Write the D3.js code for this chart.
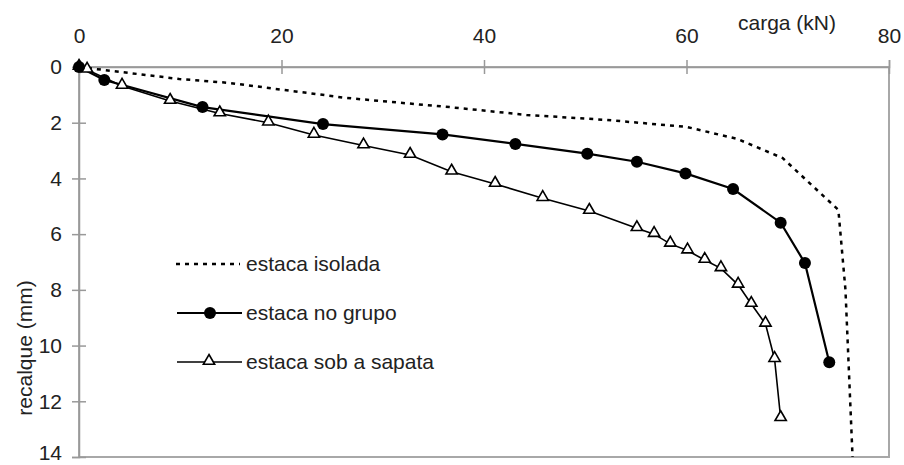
<!DOCTYPE html>
<html>
<head>
<meta charset="utf-8">
<script src="https://cdn.jsdelivr.net/npm/d3@7"></script>
<style>
  body { margin: 0; background: #fff; }
  text { font-family: "Liberation Sans", Arial, sans-serif; fill: #222; }
</style>
</head>
<body>
<div id="chart"></div>
<script>
// carga (kN) x recalque (mm)
var isoladaCarga   = [0, 9.9, 14.8, 26.4, 36.6, 44.2, 52.1, 60, 65, 69.5, 75, 75.7, 76.4];
var isoladaRecalque = [0, 0.43, 0.57, 1.11, 1.44, 1.72, 1.9, 2.15, 2.58, 3.27, 5.13, 8, 14];

var grupoCarga    = [0, 2.5, 12.2, 24.1, 35.9, 43.1, 50.2, 55.1, 59.9, 64.6, 69.3, 71.7, 74.1];
var grupoRecalque = [0, 0.47, 1.44, 2.05, 2.42, 2.76, 3.11, 3.4, 3.82, 4.38, 5.59, 7.04, 10.6];

var sapataCarga    = [0, 0.8, 4.25, 9.0, 13.9, 18.7, 23.2, 28.1, 32.7, 36.8, 41.1, 45.8, 50.4, 55.1, 56.8, 58.4, 60.1, 61.8, 63.4, 65.1, 66.4, 67.8, 68.7, 69.3];
var sapataRecalque = [0, 0.1, 0.68, 1.22, 1.67, 2.0, 2.44, 2.82, 3.16, 3.76, 4.2, 4.71, 5.17, 5.79, 6.0, 6.35, 6.59, 6.93, 7.23, 7.82, 8.51, 9.22, 10.49, 12.61];

var xTicks = [0, 20, 40, 60, 80];
var yTicks = [0, 2, 4, 6, 8, 10, 12, 14];

var seriesNames = ["estaca isolada", "estaca no grupo", "estaca sob a sapata"];

function pairs(xs, ys) {
  return xs.map(function(d, i) { return {x: d, y: ys[i]}; });
}
var isolada = pairs(isoladaCarga, isoladaRecalque),
    grupo = pairs(grupoCarga, grupoRecalque),
    sapata = pairs(sapataCarga, sapataRecalque);

var width = 904, height = 465;
var margin = {top: 67, right: 15, bottom: 8, left: 79};
var fs = 21;

var svg = d3.select('#chart').append('svg')
    .attr('width', width)
    .attr('height', height);

var x = d3.scaleLinear().domain([0, 80]).range([margin.left, width - margin.right]);
var y = d3.scaleLinear().domain([0, 14]).range([margin.top, height - margin.bottom]);

// frame
svg.append('rect')
    .attr('x', x(0)).attr('y', y(0))
    .attr('width', x(80) - x(0)).attr('height', y(14) - y(0))
    .attr('fill', 'none')
    .attr('stroke', '#a8a8a8')
    .attr('stroke-width', 2);

var xAxis = svg.append('g')
    .attr('transform', 'translate(0,' + y(0) + ')')
    .call(d3.axisTop(x).tickValues(xTicks).tickSize(7).tickPadding(17));
xAxis.select('.domain').attr('stroke', '#999').attr('stroke-width', 1.5);
xAxis.selectAll('.tick line').attr('y1', 7).attr('stroke', '#999').attr('stroke-width', 1.5);
xAxis.selectAll('.tick text').attr('font-size', fs).style('font-family', '"Liberation Sans", Arial, sans-serif').attr('fill', '#222');

var yAxis = svg.append('g')
    .attr('transform', 'translate(' + x(0) + ',0)')
    .call(d3.axisLeft(y).tickValues(yTicks).tickSize(7).tickPadding(10));
yAxis.select('.domain').attr('stroke', '#999').attr('stroke-width', 1.5);
yAxis.selectAll('.tick line').attr('x1', 7).attr('stroke', '#999').attr('stroke-width', 1.5);
yAxis.selectAll('.tick text').attr('font-size', fs).style('font-family', '"Liberation Sans", Arial, sans-serif').attr('fill', '#222');
// last label sits at the page edge, nudge it up so it stays whole
yAxis.selectAll('.tick text').filter(function(d) { return d === 14; }).attr('dy', '0.1em');

// axis titles
svg.append('text')
    .attr('x', 787).attr('y', 30)
    .attr('text-anchor', 'middle')
    .attr('font-size', fs)
    .text('carga (kN)');

svg.append('text')
    .attr('transform', 'translate(32,348) rotate(-90)')
    .attr('text-anchor', 'middle')
    .attr('font-size', fs)
    .text('recalque (mm)');

var line = d3.line()
    .x(function(d) { return x(d.x); })
    .y(function(d) { return y(d.y); });

// estaca isolada
svg.append('path')
    .datum(isolada)
    .attr('d', line)
    .attr('fill', 'none')
    .attr('stroke', '#000')
    .attr('stroke-width', 2.5)
    .attr('stroke-dasharray', '4,5');

// estaca sob a sapata
svg.append('path')
    .datum(sapata)
    .attr('d', line)
    .attr('fill', 'none')
    .attr('stroke', '#000')
    .attr('stroke-width', 1.6);

// estaca no grupo
svg.append('path')
    .datum(grupo)
    .attr('d', line)
    .attr('fill', 'none')
    .attr('stroke', '#000')
    .attr('stroke-width', 2.2);

var tri = d3.symbol().type(d3.symbolTriangle).size(55);

svg.selectAll('.tri')
    .data(sapata)
  .enter().append('path')
    .attr('class', 'tri')
    .attr('d', tri)
    .attr('transform', function(d) { return 'translate(' + x(d.x) + ',' + (y(d.y) - 1) + ')'; })
    .attr('fill', '#fff')
    .attr('stroke', '#000')
    .attr('stroke-width', 1.6);

svg.selectAll('.dot')
    .data(grupo)
  .enter().append('circle')
    .attr('class', 'dot')
    .attr('cx', function(d) { return x(d.x); })
    .attr('cy', function(d) { return y(d.y); })
    .attr('r', 6)
    .attr('fill', '#000');

// legend
var legY = [264, 313, 362];
var legend = svg.append('g');

legend.append('line')
    .attr('x1', 176).attr('x2', 240).attr('y1', legY[0]).attr('y2', legY[0])
    .attr('stroke', '#000').attr('stroke-width', 2.5).attr('stroke-dasharray', '4,5');

legend.append('line')
    .attr('x1', 177).attr('x2', 242).attr('y1', legY[1]).attr('y2', legY[1])
    .attr('stroke', '#000').attr('stroke-width', 2.2);
legend.append('circle')
    .attr('cx', 210).attr('cy', legY[1]).attr('r', 6).attr('fill', '#000');

legend.append('line')
    .attr('x1', 177).attr('x2', 242).attr('y1', legY[2]).attr('y2', legY[2])
    .attr('stroke', '#000').attr('stroke-width', 1.6);
legend.append('path')
    .attr('d', tri)
    .attr('transform', 'translate(209,' + (legY[2] - 1) + ')')
    .attr('fill', '#fff').attr('stroke', '#000').attr('stroke-width', 1.6);

legend.selectAll('.leg-text')
    .data(seriesNames)
  .enter().append('text')
    .attr('class', 'leg-text')
    .attr('x', 246)
    .attr('y', function(d, i) { return legY[i]; })
    .attr('dy', '0.35em')
    .attr('font-size', fs)
    .text(function(d) { return d; });
</script>
</body>
</html>
